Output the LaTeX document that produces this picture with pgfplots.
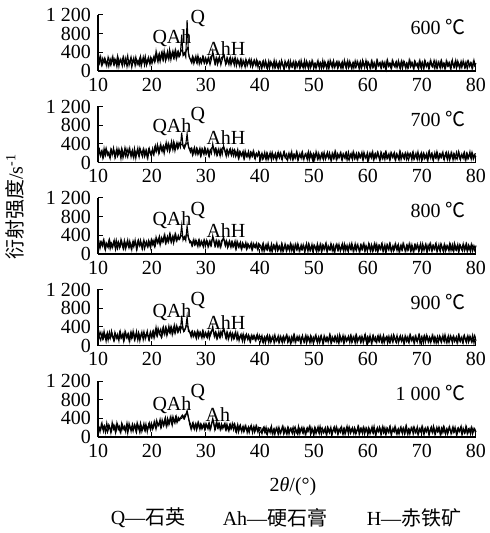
\documentclass[border=0pt]{standalone}
\usepackage{fontspec}
\setmainfont{Liberation Serif}
\newfontfamily\cjk{Noto Sans CJK SC}
\usepackage{pgfplots}
\usepackage{pgfplotstable}
\pgfplotsset{compat=1.18}

% main scan grid (0.25 deg)
\pgfplotstableread{
x a b c d e
10 250 230 210 240 260
10.25 160 290 150 180 200
10.5 300 140 260 110 150
10.75 120 250 190 270 290
11 210 110 300 150 120
11.25 280 200 130 230 240
11.5 140 310 240 90 170
11.75 230 160 170 280 100
12 100 220 280 200 260
12.25 260 90 110 140 180
12.5 170 270 230 310 120
12.75 310 180 160 170 280
13 130 240 290 100 210
13.25 220 120 90 250 90
13.5 90 300 200 190 300
13.75 270 170 270 130 160
14 180 230 140 280 230
14.25 240 80 310 160 110
14.5 110 260 180 220 270
14.75 290 150 100 90 190
15 150 320 250 300 140
15.25 200 190 170 170 250
15.5 330 110 300 240 80
15.75 120 280 130 110 290
16 250 170 220 260 170
16.25 80 230 90 150 220
16.5 230 130 280 310 120
16.75 170 300 190 120 260
17 300 90 240 230 140
17.25 140 250 120 170 310
17.5 210 160 290 280 200
17.75 280 310 170 100 90
18 100 200 230 250 240
18.25 240 120 110 190 160
18.5 190 280 300 300 290
18.75 320 170 190 140 130
19 130 260 270 260 230
19.25 260 110 150 200 180
19.5 180 300 250 120 300
19.75 290 190 130 290 150
20 160 250 300 180 260
20.25 280 170 220 310 200
20.5 190 320 150 200 330
20.75 420 230 360 390 170
21 230 380 240 210 300
21.25 340 200 330 330 250
21.5 200 350 190 240 380
21.75 380 260 350 170 220
22 250 330 260 360 340
22.25 430 190 400 250 270
22.5 220 370 230 380 410
22.75 350 290 330 210 230
23 270 410 250 340 360
23.25 460 240 420 280 290
23.5 240 380 270 400 430
23.75 390 300 360 230 250
24 280 440 230 370 390
24.25 420 250 410 260 300
24.5 260 390 280 420 440
24.75 400 300 350 290 330
25 300 420 310 380 380
25.25 350 330 360 300 410
25.5 780 640 610 640 400
25.75 330 350 300 340 450
26 390 300 370 310 390
26.25 300 380 290 380 460
26.5 1090 620 600 620 570
26.75 380 330 350 300 420
27 270 280 240 290 260
27.25 200 310 260 180 160
27.5 310 160 180 300 290
27.75 160 280 310 200 190
28 280 190 200 270 270
28.25 190 300 270 150 150
28.5 330 170 160 310 300
28.75 150 260 300 210 200
29 270 140 190 280 280
29.25 210 290 250 160 170
29.5 300 200 150 300 260
29.75 170 310 290 190 160
30 260 180 210 260 290
30.25 180 280 270 170 200
30.5 290 150 170 300 290
30.75 140 260 280 200 150
31 250 190 190 270 260
31.25 420 400 390 410 400
31.5 230 240 250 220 240
31.75 150 300 170 290 170
32 280 160 280 150 330
32.25 190 270 160 250 190
32.5 300 180 260 180 280
32.75 130 290 150 300 160
33 240 170 270 200 250
33.25 380 360 370 380 240
33.5 220 250 210 260 300
33.75 160 130 290 150 150
34 270 260 140 270 230
34.25 140 190 250 170 130
34.5 290 290 170 280 270
34.75 170 150 260 130 180
35 250 240 150 240 240
35.25 120 280 230 160 290
35.5 260 130 110 290 130
35.75 160 220 270 120 220
36 210 90 150 200 100
36.25 100 230 220 160 230
36.5 250 150 120 240 150
36.75 130 210 240 90 210
37 200 90 150 220 110
37.25 80 250 200 140 240
37.5 220 130 100 240 150
37.75 150 190 220 120 190
38 250 110 130 190 90
38.25 100 220 200 80 220
38.5 200 140 90 220 150
38.75 130 250 230 140 210
39 230 100 150 200 100
39.25 110 180 210 110 230
39.5 210 130 110 240 130
39.75 140 230 220 130 200
40 190 120 140 190 120
40.25 60 180 120 200 90
40.5 190 70 210 80 170
40.75 100 150 60 160 220
41 220 90 170 50 110
41.25 80 200 100 190 60
41.5 160 60 230 110 180
41.75 50 170 80 210 130
42 200 110 150 70 200
42.25 120 220 40 170 80
42.5 180 80 190 120 160
42.75 70 160 110 230 50
43 210 50 200 90 190
43.25 90 190 70 160 110
43.5 170 120 160 60 210
43.75 60 210 90 200 70
44 230 80 220 100 150
44.25 110 150 50 180 230
44.5 40 230 130 70 90
44.75 190 100 200 150 170
45 130 60 80 220 60
45.25 220 180 170 90 200
45.5 70 110 60 170 120
45.75 160 200 210 50 180
46 90 70 120 140 70
46.25 200 170 40 230 150
46.5 50 90 190 80 220
46.75 180 220 100 160 100
47 120 50 220 110 50
47.25 210 160 70 200 190
47.5 80 120 150 60 130
47.75 150 210 90 180 210
48 60 80 200 130 80
48.25 230 140 50 70 170
48.5 100 190 180 220 60
48.75 170 60 110 100 200
49 40 230 220 170 140
49.25 190 100 80 50 230
49.5 110 170 160 190 90
49.75 210 50 60 120 160
50 70 180 190 80 50
50.25 160 120 130 210 190
50.5 90 210 40 100 110
50.75 220 70 170 160 220
51 50 150 90 60 70
51.25 180 90 210 200 150
51.5 130 200 70 130 200
51.75 60 60 180 50 90
52 200 170 110 180 170
52.25 100 110 230 90 60
52.5 170 220 60 170 210
52.75 40 80 150 110 120
53 230 150 90 220 180
53.25 120 50 200 60 50
53.5 190 190 120 150 140
53.75 70 100 40 80 220
54 150 230 170 190 100
54.25 210 70 210 120 190
54.5 80 160 80 60 70
54.75 170 110 160 230 160
55 50 200 100 100 210
55.25 200 60 220 170 90
55.5 110 180 50 50 180
55.75 180 90 190 200 60
56 60 210 130 90 200
56.25 220 120 70 160 130
56.5 90 50 180 110 220
56.75 160 170 110 210 80
57 40 100 230 70 170
57.25 190 230 60 180 110
57.5 130 80 170 100 200
57.75 70 160 90 220 60
58 210 60 200 60 150
58.25 100 200 140 150 230
58.5 180 110 50 200 90
58.75 50 180 190 80 180
59 230 70 100 170 70
59.25 120 220 220 110 200
59.5 170 100 70 230 120
59.75 80 150 160 50 190
60 200 50 110 180 60
60.25 140 190 200 90 170
60.5 60 130 60 160 100
60.75 210 210 170 60 220
61 90 60 90 210 80
61.25 170 170 230 120 160
61.5 40 90 120 70 50
61.75 220 220 50 190 200
62 110 120 180 100 110
62.25 180 50 100 220 180
62.5 70 200 210 80 70
62.75 190 80 70 170 230
63 120 160 160 50 130
63.25 50 230 40 150 60
63.5 210 90 190 200 190
63.75 100 150 100 110 100
64 160 60 220 60 210
64.25 60 210 80 180 70
64.5 230 110 150 90 160
64.75 130 180 60 230 120
65 80 70 200 130 230
65.25 200 190 110 60 80
65.5 100 130 180 170 150
65.75 170 50 50 100 60
66 60 220 170 210 200
66.25 220 100 90 80 110
66.5 120 170 230 150 190
66.75 190 80 130 50 70
67 50 200 60 190 220
67.25 160 110 190 120 100
67.5 80 50 100 70 170
67.75 230 180 210 220 60
68 110 120 70 110 200
68.25 170 210 160 170 130
68.5 40 70 50 60 220
68.75 200 160 200 200 90
69 130 100 120 100 160
69.25 70 230 180 150 50
69.5 210 60 80 230 180
69.75 90 170 220 80 120
70 180 110 60 180 230
70.25 60 200 170 50 80
70.5 220 80 110 210 170
70.75 110 150 200 120 110
71 170 50 50 190 200
71.25 50 220 150 70 60
71.5 200 120 230 160 150
71.75 120 190 80 100 220
72 80 70 180 220 90
72.25 230 160 100 60 180
72.5 140 100 210 170 70
72.75 60 230 60 130 210
73 190 60 160 50 120
73.25 100 180 90 200 190
73.5 210 110 220 90 50
73.75 70 200 120 180 160
74 160 80 40 110 230
74.25 40 150 190 230 100
74.5 220 220 100 70 170
74.75 110 60 170 160 60
75 180 170 60 60 200
75.25 60 100 210 210 130
75.5 200 210 130 120 80
75.75 130 50 70 190 220
76 80 180 230 80 110
76.25 230 120 100 150 170
76.5 100 70 170 50 60
76.75 170 230 50 220 190
77 50 90 200 100 120
77.25 210 160 120 170 230
77.5 120 110 60 70 70
77.75 180 200 190 200 160
78 70 60 110 130 100
78.25 150 190 220 60 210
78.5 220 80 80 210 80
78.75 90 170 160 110 170
79 170 110 50 180 60
79.25 60 220 200 70 200
79.5 200 70 130 150 120
79.75 110 160 70 220 180
80 170 120 180 100 110
}\xrd

% intermediate scan points (offset 0.125 deg)
\pgfplotstableread{
x a b c d e
10.125 190 280 300 160 220
10.375 310 170 120 290 110
10.625 140 240 250 200 280
10.875 270 100 160 130 180
11.125 170 300 280 310 240
11.375 240 150 90 170 100
11.625 110 260 220 240 300
11.875 300 190 140 110 150
12.125 200 120 310 290 230
12.375 120 280 200 180 90
12.625 280 160 130 250 310
12.875 150 310 260 120 170
13.125 260 110 170 280 250
13.375 180 250 300 150 140
13.625 320 140 120 240 270
13.875 100 290 230 100 190
14.125 250 180 160 300 100
14.375 160 300 280 170 290
14.625 290 100 140 260 160
14.875 130 240 290 130 230
15.125 270 130 110 280 110
15.375 90 290 250 160 300
15.625 230 180 160 250 150
15.875 180 310 280 90 250
16.125 300 120 130 290 120
16.375 150 260 240 180 280
16.625 280 100 150 270 180
16.875 110 240 300 140 240
17.125 250 170 100 300 100
17.375 200 310 270 110 260
17.625 120 120 180 240 170
17.875 310 270 300 160 300
18.125 170 180 140 290 120
18.375 300 290 260 120 230
18.625 120 130 110 250 150
18.875 240 260 230 180 280
19.125 170 100 160 310 110
19.375 290 280 290 140 270
19.625 140 200 180 260 190
19.875 270 140 310 170 300
20.125 200 300 200 290 170
20.375 320 180 300 160 310
20.625 230 360 190 330 210
20.875 380 240 330 220 360
21.125 200 330 250 370 240
21.375 370 220 380 250 320
21.625 260 390 230 350 200
21.875 400 240 330 220 370
22.125 240 360 270 390 250
22.375 380 280 410 240 380
22.625 270 430 250 380 240
22.875 420 260 380 260 400
23.125 250 390 290 420 270
23.375 400 280 420 270 420
23.625 300 450 260 390 300
23.875 430 270 390 280 440
24.125 290 410 300 440 320
24.375 450 300 430 290 430
24.625 300 430 290 410 310
24.875 420 320 400 300 420
25.125 330 410 320 400 360
25.375 450 380 400 360 430
25.625 420 400 380 420 470
25.875 340 320 330 300 400
26.125 360 390 310 360 480
26.375 450 400 420 430 500
26.625 500 420 400 410 480
26.875 300 300 310 320 350
27.125 250 220 280 240 280
27.375 170 300 180 300 190
27.625 290 190 290 190 300
27.875 200 320 200 290 170
28.125 320 180 300 180 290
28.375 170 290 190 300 200
28.625 290 200 290 170 310
28.875 230 310 170 280 160
29.125 160 160 280 190 270
29.375 300 280 200 310 200
29.625 180 170 300 170 290
29.875 280 290 160 280 170
30.125 160 190 290 190 260
30.375 270 280 150 280 170
30.625 180 140 270 150 290
30.875 300 280 180 290 180
31.125 330 320 310 330 320
31.375 360 330 340 300 350
31.625 170 180 180 180 160
31.875 280 290 290 270 290
32.125 140 170 170 160 200
32.375 270 290 280 300 290
32.625 190 140 150 170 160
32.875 290 280 290 270 280
33.125 300 320 310 320 180
33.375 330 310 300 330 260
33.625 150 190 170 180 160
33.875 280 280 260 290 280
34.125 170 150 170 130 150
34.375 260 270 280 260 260
34.625 130 180 140 200 170
34.875 270 280 260 270 290
35.125 180 140 170 150 150
35.375 290 250 280 260 250
35.625 110 170 120 170 110
35.875 250 280 250 270 270
36.125 140 100 150 100 150
36.375 240 220 250 220 250
36.625 90 140 100 150 110
36.875 230 240 220 250 230
37.125 130 90 150 80 140
37.375 250 210 250 220 240
37.625 110 130 120 160 90
37.875 220 240 200 230 220
38.125 160 90 140 100 160
38.375 250 210 240 210 250
38.625 90 130 100 140 90
38.875 220 220 210 220 230
39.125 140 80 140 110 140
39.375 240 200 230 210 240
39.625 80 140 90 140 100
39.875 210 210 210 220 200
40.125 190 60 180 90 200
40.375 70 200 60 210 70
40.625 210 100 220 70 190
40.875 90 220 80 190 100
41.125 180 60 200 120 210
41.375 50 190 90 220 60
41.625 220 90 170 60 170
41.875 110 210 60 190 90
42.125 170 50 220 100 230
42.375 60 180 100 200 60
42.625 230 120 180 50 180
42.875 80 200 70 170 110
43.125 160 70 230 110 200
43.375 50 220 90 210 50
43.625 200 100 170 80 170
43.875 120 190 50 180 100
44.125 180 60 200 60 220
44.375 60 210 80 200 70
44.625 210 110 210 120 190
44.875 90 180 60 220 80
45.125 170 50 180 70 200
45.375 40 200 100 180 60
45.625 220 80 220 50 180
45.875 100 230 70 190 110
46.125 190 60 190 90 210
46.375 70 170 50 220 50
46.625 200 100 210 70 170
46.875 80 210 90 200 90
47.125 180 70 180 110 230
47.375 50 190 60 180 70
47.625 230 90 200 60 180
47.875 110 220 100 210 100
48.125 170 60 170 80 200
48.375 60 180 70 190 60
48.625 210 110 220 50 170
48.875 90 200 50 200 110
49.125 190 50 190 100 220
49.375 70 210 80 210 50
49.625 220 100 210 70 190
49.875 100 190 60 180 80
50.125 160 60 180 110 200
50.375 50 230 90 220 70
50.625 200 80 220 60 180
50.875 110 200 70 190 100
51.125 180 60 200 90 230
51.375 60 190 50 200 60
51.625 230 100 190 50 170
51.875 90 220 90 210 110
52.125 170 70 210 100 200
52.375 40 180 60 180 50
52.625 210 110 180 70 190
52.875 100 210 100 220 90
53.125 190 50 220 60 210
53.375 70 200 70 190 60
53.625 220 90 190 110 180
53.875 80 230 50 200 110
54.125 180 60 200 80 220
54.375 60 190 90 210 70
54.625 200 100 210 50 170
54.875 110 210 60 190 100
55.125 170 70 180 100 210
55.375 50 180 100 220 50
55.625 230 110 220 70 180
55.875 90 200 70 180 90
56.125 190 50 190 110 230
56.375 70 220 50 200 60
56.625 210 90 210 60 190
56.875 100 190 90 210 110
57.125 160 60 180 90 200
57.375 60 210 60 190 70
57.625 220 100 220 50 170
57.875 110 200 80 220 100
58.125 180 70 200 100 220
58.375 40 190 50 180 50
58.625 200 110 190 70 180
58.875 90 220 100 200 110
59.125 190 60 210 60 210
59.375 70 180 70 210 60
59.625 230 90 180 110 190
59.875 100 210 60 190 90
60.125 170 50 220 80 200
60.375 60 200 90 220 70
60.625 210 100 200 50 180
60.875 80 230 50 200 100
61.125 180 70 190 100 230
61.375 50 190 80 180 50
61.625 220 110 210 70 170
61.875 110 200 60 210 110
62.125 170 60 180 90 210
62.375 70 210 100 190 60
62.625 200 90 220 60 190
62.875 90 180 70 220 90
63.125 190 60 200 110 200
63.375 40 220 50 180 70
63.625 230 100 190 50 180
63.875 100 190 90 200 100
64.125 160 70 210 80 220
64.375 60 200 60 210 50
64.625 210 110 180 70 190
64.875 110 210 100 190 110
65.125 180 50 220 100 200
65.375 70 180 70 220 60
65.625 220 90 200 60 180
65.875 80 230 50 180 100
66.125 190 60 190 110 210
66.375 50 190 90 200 70
66.625 200 100 210 50 190
66.875 100 200 60 210 90
67.125 170 70 180 90 230
67.375 60 210 80 190 50
67.625 230 110 220 70 170
67.875 90 190 70 220 110
68.125 180 50 200 100 200
68.375 70 220 50 180 60
68.625 210 90 190 60 190
68.875 110 200 100 200 100
69.125 160 60 210 80 220
69.375 40 180 60 210 70
69.625 220 100 180 50 180
69.875 100 210 90 190 90
70.125 190 70 220 110 210
70.375 60 190 70 200 50
70.625 200 110 200 70 190
70.875 90 200 50 220 110
71.125 170 60 190 90 200
71.375 70 230 90 180 60
71.625 230 90 210 60 180
71.875 110 190 60 210 100
72.125 180 50 180 100 230
72.375 50 210 100 190 70
72.625 210 100 220 50 170
72.875 80 200 70 200 110
73.125 190 70 200 110 210
73.375 60 180 50 180 50
73.625 220 110 190 70 190
73.875 100 220 90 220 90
74.125 160 60 210 80 200
74.375 70 190 60 190 60
74.625 200 90 180 60 180
74.875 110 210 100 210 110
75.125 180 50 220 100 220
75.375 40 200 70 180 70
75.625 230 100 200 50 190
75.875 90 190 50 200 100
76.125 190 70 190 110 210
76.375 60 220 90 190 50
76.625 210 110 210 70 180
76.875 100 200 60 220 110
77.125 170 60 180 90 200
77.375 70 180 100 180 60
77.625 220 90 220 60 190
77.875 80 210 70 210 90
78.125 190 50 200 100 230
78.375 50 190 50 190 70
78.625 200 100 190 70 170
78.875 110 230 90 200 110
79.125 170 70 210 90 210
79.375 60 190 60 220 60
79.625 230 110 180 50 180
79.875 100 200 100 190 100
}\xrdb

\pgfplotsset{panel/.style={
  scale only axis, width=189pt, height=28pt,
  xmin=10, xmax=80, ymin=0, ymax=1200,
  axis lines*=left, axis line style={-, line width=0.6pt},
  xtick={10,20,...,80}, ytick={0,400,800,1200},
  yticklabels={0,400,800,1 200},
  tick align=inside, major tick length=2.5pt,
  tick style={black, line width=0.5pt},
  tick label style={font=\fontsize{10}{11}\selectfont},
  /pgf/number format/assume math mode=true,
  clip=false,
  anchor=origin,
}, scan/.style={black, line width=0.55pt}}

\begin{document}
\begin{tikzpicture}[font=\fontsize{10}{11}\selectfont]
\begin{axis}[panel, at={(0,0)}]
\addplot[scan] table[x=x,y=a]{\xrdb};
\addplot[scan] table[x=x,y=a]{\xrd};
\node at (axis cs:28.5,1130) {Q};
\node at (axis cs:23.7,700) {QAh};
\node at (axis cs:33.7,490) {AhH};
\node[anchor=east] at (axis cs:79.4,940) {600 {\cjk ℃}};
\end{axis}
\begin{axis}[panel, at={(0,-45.75pt)}]
\addplot[scan] table[x=x,y=b]{\xrdb};
\addplot[scan] table[x=x,y=b]{\xrd};
\node at (axis cs:28.5,1010) {Q};
\node at (axis cs:23.7,760) {QAh};
\node at (axis cs:33.7,545) {AhH};
\node[anchor=east] at (axis cs:79.4,940) {700 {\cjk ℃}};
\end{axis}
\begin{axis}[panel, at={(0,-91.5pt)}]
\addplot[scan] table[x=x,y=c]{\xrdb};
\addplot[scan] table[x=x,y=c]{\xrd};
\node at (axis cs:28.5,940) {Q};
\node at (axis cs:23.7,720) {QAh};
\node at (axis cs:33.7,500) {AhH};
\node[anchor=east] at (axis cs:79.4,940) {800 {\cjk ℃}};
\end{axis}
\begin{axis}[panel, at={(0,-137.25pt)}]
\addplot[scan] table[x=x,y=d]{\xrdb};
\addplot[scan] table[x=x,y=d]{\xrd};
\node at (axis cs:28.5,970) {Q};
\node at (axis cs:23.7,710) {QAh};
\node at (axis cs:33.7,490) {AhH};
\node[anchor=east] at (axis cs:79.4,940) {900 {\cjk ℃}};
\end{axis}
\begin{axis}[panel, at={(0,-183pt)}]
\addplot[scan] table[x=x,y=e]{\xrdb};
\addplot[scan] table[x=x,y=e]{\xrd};
\node at (axis cs:28.5,960) {Q};
\node at (axis cs:23.7,675) {QAh};
\node at (axis cs:32.2,486) {Ah};
\node[anchor=east] at (axis cs:79.4,940) {1 000 {\cjk ℃}};
\end{axis}
\node[rotate=90] at (-41.5pt,-68pt) {{\cjk 衍射强度}/s\textsuperscript{-1}};
\node at (97.5pt,-208pt) {2\textit{θ}/(°)};
\node at (25pt,-223.5pt) {Q—{\cjk 石英}};
\node at (88.5pt,-223.5pt) {Ah—{\cjk 硬石膏}};
\node at (158pt,-223.5pt) {H—{\cjk 赤铁矿}};
\pgfresetboundingbox
\path[use as bounding box] (-49pt,35.5pt) rectangle (195.5pt,-231pt);
\end{tikzpicture}
\end{document}
